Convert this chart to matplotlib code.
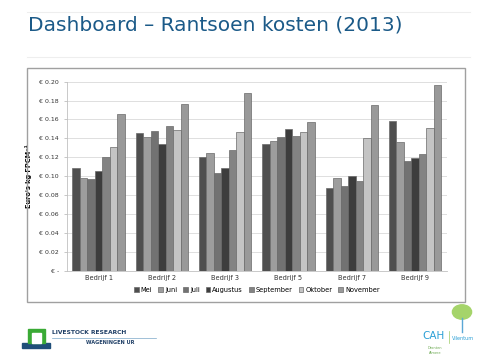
# Dashboard slide: feed ration cost per kg FPCM per farm, May-Nov 2013.
import numpy as np
import matplotlib
matplotlib.use("Agg")
import matplotlib.pyplot as plt
from matplotlib.patches import Rectangle, Polygon

bedrijven = ["Bedrijf 1", "Bedrijf 2", "Bedrijf 3", "Bedrijf 5", "Bedrijf 7", "Bedrijf 9"]
maanden = ["Mei", "Juni", "Juli", "Augustus", "September", "Oktober", "November"]
mei = [0.109, 0.146, 0.120, 0.134, 0.087, 0.158]
juni = [0.098, 0.142, 0.125, 0.137, 0.098, 0.136]
juli = [0.097, 0.148, 0.103, 0.142, 0.090, 0.116]
augustus = [0.106, 0.134, 0.109, 0.150, 0.100, 0.119]
september = [0.120, 0.153, 0.128, 0.143, 0.095, 0.123]
oktober = [0.131, 0.149, 0.147, 0.147, 0.140, 0.151]
november = [0.166, 0.176, 0.188, 0.157, 0.175, 0.196]
series = [mei, juni, juli, augustus, september, oktober, november]
kleuren = ["#4f4f4f", "#9d9d9d", "#727272", "#3d3d3d", "#838383", "#c4c4c4", "#999999"]
yticks = [0.0, 0.02, 0.04, 0.06, 0.08, 0.10, 0.12, 0.14, 0.16, 0.18, 0.20]
ylabels = ["€ -"] + [f"€ {v:.2f}" for v in yticks[1:]]

fig = plt.figure(figsize=(4.8, 3.6), dpi=100)
F = lambda px, py: (px / 480, 1 - py / 360)   # pixel -> figure fraction

# slide title + rules
fig.text(*F(28, 25), "Dashboard \u2013 Rantsoen kosten (2013)", fontsize=14.5,
         color="#1b5a88", va="center", ha="left")
for yy in (12, 57):
    fig.add_artist(plt.Line2D([27 / 480, 470 / 480], [F(0, yy)[1]] * 2, color="#eeeeee", lw=0.8))

# chart frame
fig.add_artist(Rectangle(F(27, 302), 438 / 480, 234 / 360,
                         transform=fig.transFigure, fill=False, ec="#a0a0a0", lw=1.0))

ax = fig.add_axes([67 / 480, 1 - 270.7 / 360, 379.7 / 480, 189 / 360])
x = np.arange(len(bedrijven))
w = 0.83 / len(series)
for i, (vals, col, naam) in enumerate(zip(series, kleuren, maanden)):
    ax.bar(x - 0.415 + w * (i + 0.5), vals, width=w, color=col, ec="#6a6a6a",
           lw=0.5, label=naam, zorder=3)

ax.set_xlim(-0.5, len(bedrijven) - 0.5)
ax.set_ylim(0, 0.20)
ax.set_yticks(yticks)
ax.set_yticklabels(ylabels, fontsize=4.5, color="#333333")
ax.set_xticks(x)
ax.set_xticklabels(bedrijven, fontsize=4.8, color="#333333")
ax.tick_params(axis="x", length=0, pad=3)
ax.tick_params(axis="y", length=2, width=0.5, color="#b0b0b0", pad=3.8)
ax.grid(axis="y", color="#d9d9d9", lw=0.6, zorder=0)
for s in ("top", "right"):
    ax.spines[s].set_visible(False)
for s in ("left", "bottom"):
    ax.spines[s].set_color("#c0c0c0")
    ax.spines[s].set_linewidth(0.6)
ax.set_ylabel("Euro's kg FPCM\u207b\u00b9", fontsize=4.8, fontweight="bold")
ax.yaxis.set_label_coords(-0.092, 0.5)
ax.legend(loc="upper center", bbox_to_anchor=(0.5, -0.07), ncol=7, fontsize=4.8,
          frameon=False, handlelength=0.7, handleheight=0.7, columnspacing=0.9,
          handletextpad=0.3, borderaxespad=0)

# logos (rough)
fig.add_artist(Polygon([F(22, 348), F(50, 348), F(50, 343), F(22, 343)],
                       transform=fig.transFigure, color="#1f4e79"))
fig.add_artist(Rectangle(F(28, 343), 17 / 480, 14 / 360,
                         transform=fig.transFigure, color="#3aaa35"))
fig.add_artist(Rectangle(F(32, 343), 9 / 480, 10 / 360,
                         transform=fig.transFigure, color="white"))
fig.text(*F(52, 333), "LIVESTOCK RESEARCH", fontsize=4.3, color="#1f3f66",
         fontweight="bold", va="center")
fig.add_artist(plt.Line2D([52 / 480, 156 / 480], [F(0, 338)[1]] * 2, color="#7aa7c7", lw=0.5))
fig.text(*F(86, 343), "WAGENINGEN UR", fontsize=3.6, color="#1f3f66",
         fontweight="bold", va="center")
fig.text(*F(422, 336), "CAH", fontsize=7.5, color="#2a9fd6", va="center")
fig.add_artist(plt.Line2D([449 / 480, 449 / 480], [F(0, 331)[1], F(0, 343)[1]],
                          color="#9ccc65", lw=0.5))
fig.text(*F(452, 339), "Vilentum", fontsize=3.5, color="#2a9fd6", va="center")
fig.text(*F(428, 348), "Dronten", fontsize=2.5, color="#6aa84f", va="center")
fig.text(*F(429, 353), "Almere", fontsize=2.5, color="#6aa84f", va="center")
fig.add_artist(plt.Line2D([462 / 480, 462 / 480], [F(0, 318)[1], F(0, 332)[1]],
                          color="#5aa7d6", lw=1.0))
fig.add_artist(plt.Circle(F(462, 312), 0.02, transform=fig.transFigure, color="#a5d46a"))

fig.savefig("out.png", dpi=100)
